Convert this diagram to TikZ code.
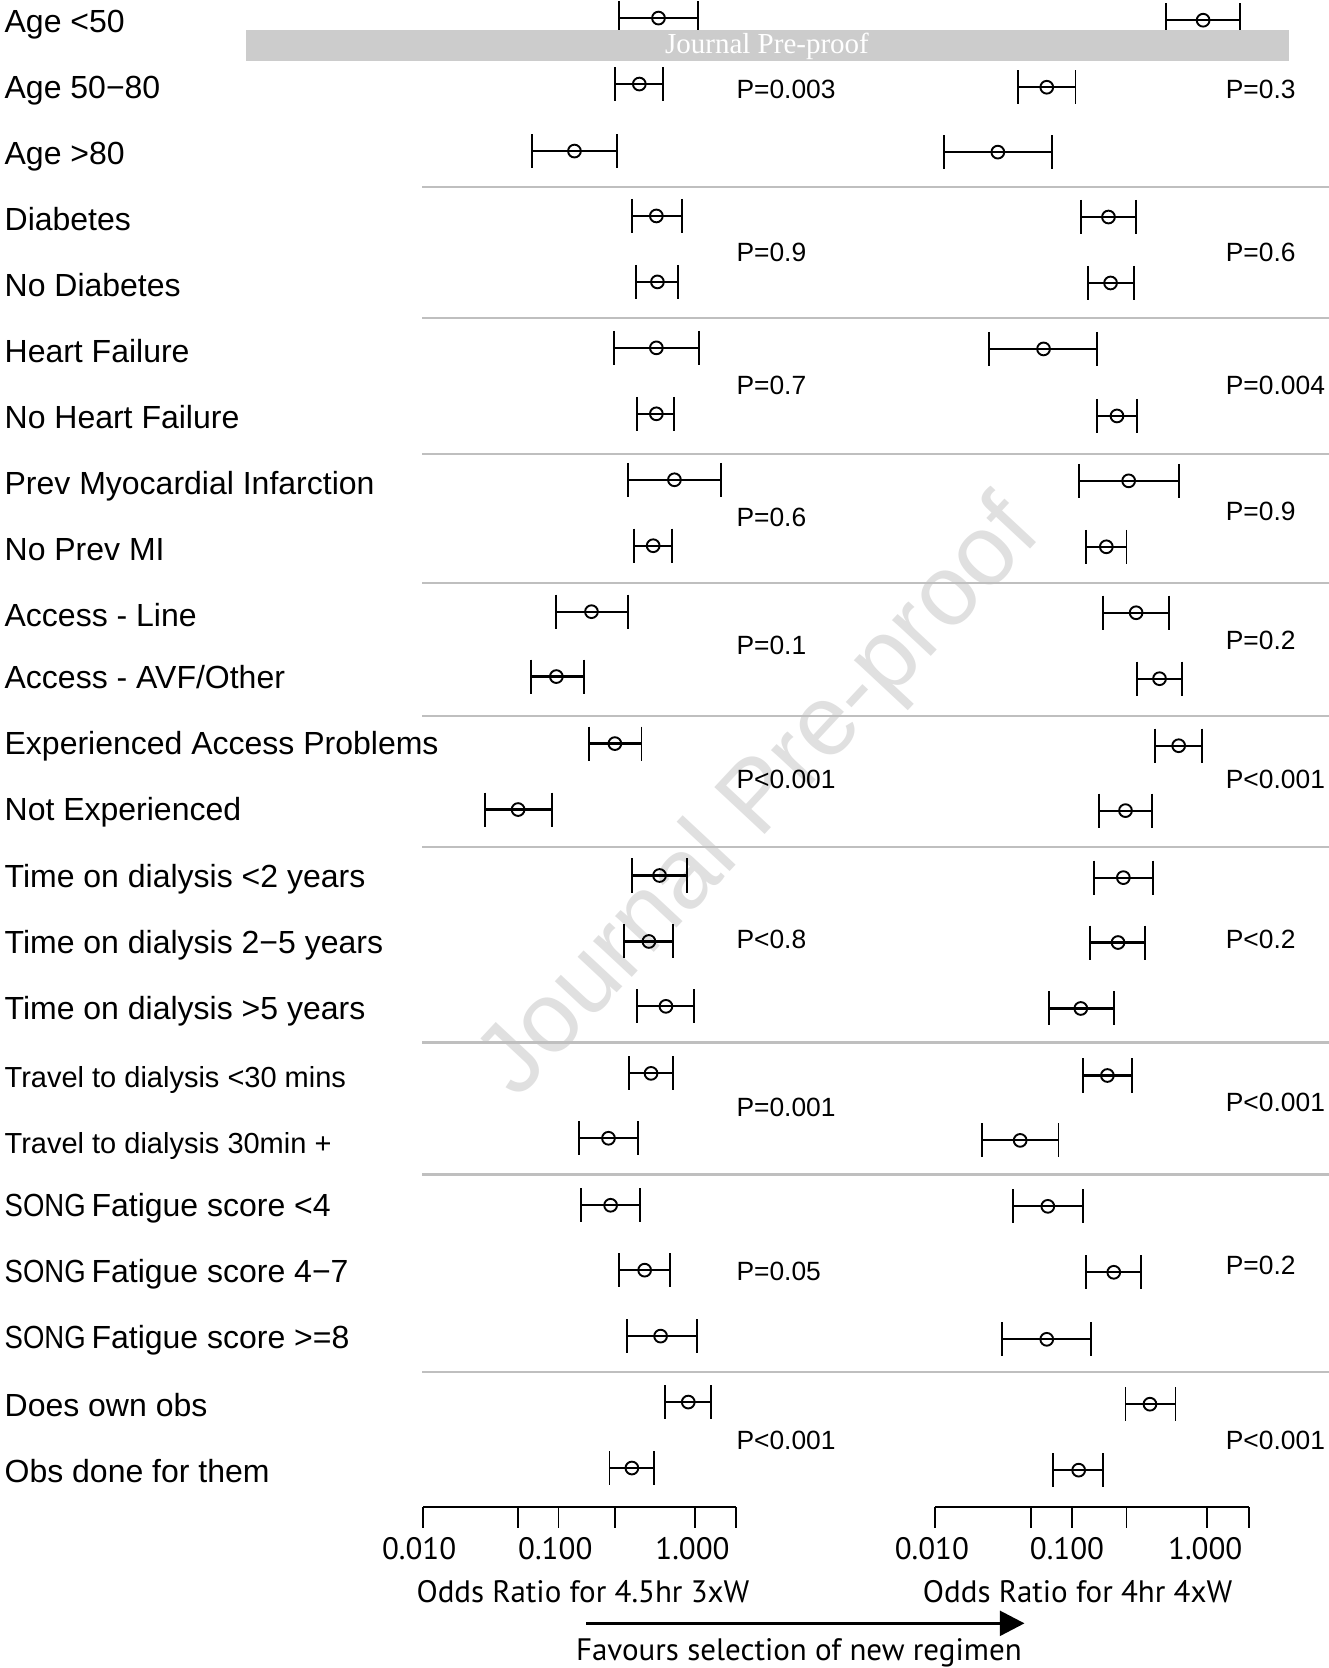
\documentclass[tikz,border=0pt]{standalone}
\usepackage{fontspec}
\setmainfont{Liberation Sans}
\newfontfamily\axfont{PT Sans}
\newfontfamily\banfont{Liberation Serif}
\newcommand\eb[4]{% y, left, centre, right
  \draw[barline] (#2,#1) -- (#4,#1);
  \draw[whisk] (#2,#1-16) -- (#2,#1+16);
  \draw[whisk] (#4,#1-16) -- (#4,#1+16);
  \draw[whisk] (#3,#1) circle[radius=6];
}
\newcommand\song{\scalebox{0.86}[1]{SONG}\hspace{-1.5pt}}
\begin{document}
\begin{tikzpicture}[x=0.532pt,y=-0.532pt,
  barline/.style={line width=1.1pt},
  whisk/.style={line width=0.95pt},
  sepline/.style={line width=1.1pt, draw=black!25},
  axisline/.style={line width=1.1pt},
  lab/.style={anchor=base west, inner sep=0pt, font=\fontsize{16}{18}\selectfont},
  labs/.style={anchor=base west, inner sep=0pt, font=\fontsize{14.5}{16}\selectfont},
  pval/.style={anchor=west, inner sep=0pt, font=\fontsize{13.2}{15}\selectfont},
  ticklab/.style={inner sep=0pt, font=\axfont\fontsize{15.5}{17}\selectfont},
]
\useasboundingbox (0,0) rectangle (1249,1568);
\fill[white] (0,0) rectangle (1249,1568);

% watermark
\node[rotate=47, text=black!12, font=\fontsize{50}{52}\selectfont] (wm) at (716,752) {Journal Pre-proof};

% separators
\foreach \yy in {176,299,427,548,673,796,980,1104,1290}
  \draw[sepline] (397,\yy) -- (1249,\yy);

% labels
\node[lab] (l1) at (4,20+11) {Age <50};
\node[lab] (l2) at (4,82+11) {Age 50−80};
\node[lab] (l3) at (4,144+11) {Age >80};
\node[lab] (l4) at (4,206+11) {Diabetes};
\node[lab] (l5) at (4,268+11) {No Diabetes};
\node[lab] (l6) at (4,330+11) {Heart Failure};
\node[lab] (l7) at (4,392+11) {No Heart Failure};
\node[lab] (l8) at (4,454+11) {Prev Myocardial Infarction};
\node[lab] (l9) at (4,516+11) {No Prev MI};
\node[lab] (l10) at (4,578+11) {Access - Line};
\node[lab] (l11) at (4,636+11) {Access - AVF/Other};
\node[lab] (l12) at (4,698+11) {Experienced Access Problems};
\node[lab] (l13) at (4,760+11) {Not Experienced};
\node[lab] (l14) at (4,823+11) {Time on dialysis <2 years};
\node[lab] (l15) at (4,885+11) {Time on dialysis 2−5 years};
\node[lab] (l16) at (4,947+11) {Time on dialysis >5 years};
\node[labs] (l17) at (4,1012+10) {Travel to dialysis <30 mins};
\node[labs] (l18) at (4,1074+10) {Travel to dialysis 30min +};
\node[lab] (l19) at (4,1133+11) {\song{} Fatigue score <4};
\node[lab] (l20) at (4,1195+11) {\song{} Fatigue score 4−7};
\node[lab] (l21) at (4,1257+11) {\song{} Fatigue score >=8};
\node[lab] (l22) at (4,1321+11) {Does own obs};
\node[lab] (l23) at (4,1383+11) {Obs done for them};

% left column error bars
\eb{17}{582}{619}{656}
\eb{79}{578}{601}{623}
\eb{142}{500}{540}{580}
\eb{203}{594}{617}{641}
\eb{265}{598}{618}{637}
\eb{327}{577}{617}{657}
\eb{389}{599}{617}{634}
\eb{451}{590}{634}{678}
\eb{513}{596}{614}{632}
\eb{575}{523}{556}{590}
\eb{636}{499}{523}{549}
\eb{699}{554}{578}{603}
\eb{761}{456}{487}{519}
\eb{823}{594}{620}{646}
\eb{885}{587}{610}{633}
\eb{946}{599}{626}{652}
\eb{1009}{591}{612}{633}
\eb{1070}{544}{572}{600}
\eb{1133}{546}{574}{602}
\eb{1194}{582}{606}{630}
\eb{1256}{589}{621}{655}
\eb{1318}{625}{647}{668}
\eb{1380}{573}{594}{615}

% right column error bars
\eb{19}{1096}{1131}{1166}
\eb{82}{957}{984}{1011}
\eb{143}{887}{938}{989}
\eb{204}{1016}{1042}{1068}
\eb{266}{1023}{1044}{1066}
\eb{328}{930}{981}{1031}
\eb{391}{1031}{1050}{1069}
\eb{452}{1014}{1061}{1108}
\eb{514}{1021}{1040}{1059}
\eb{576}{1037}{1068}{1099}
\eb{638}{1069}{1090}{1111}
\eb{701}{1086}{1108}{1130}
\eb{762}{1033}{1058}{1083}
\eb{825}{1028}{1056}{1084}
\eb{886}{1025}{1051}{1076}
\eb{948}{986}{1016}{1047}
\eb{1011}{1018}{1041}{1064}
\eb{1072}{923}{959}{995}
\eb{1134}{952}{985}{1018}
\eb{1196}{1021}{1047}{1073}
\eb{1259}{942}{984}{1026}
\eb{1320}{1058}{1081}{1105}
\eb{1382}{990}{1014}{1037}

% P-values
\node[pval] (pa1) at (692,84) {P=0.003};
\node[pval] (pa2) at (1152,84) {P=0.3};
\node[pval] (pb1) at (692,237) {P=0.9};
\node[pval] (pb2) at (1152,237) {P=0.6};
\node[pval] (pc1) at (692,362) {P=0.7};
\node[pval] (pc2) at (1152,362) {P=0.004};
\node[pval] (pd1) at (692,486) {P=0.6};
\node[pval] (pd2) at (1152,481) {P=0.9};
\node[pval] (pe1) at (692,607) {P=0.1};
\node[pval] (pe2) at (1152,602) {P=0.2};
\node[pval] (pf1) at (692,733) {P<0.001};
\node[pval] (pf2) at (1152,733) {P<0.001};
\node[pval] (pg1) at (692,883) {P<0.8};
\node[pval] (pg2) at (1152,883) {P<0.2};
\node[pval] (ph1) at (692,1041) {P=0.001};
\node[pval] (ph2) at (1152,1036) {P<0.001};
\node[pval] (pi1) at (692,1195) {P=0.05};
\node[pval] (pi2) at (1152,1190) {P=0.2};
\node[pval] (pj1) at (692,1354) {P<0.001};
\node[pval] (pj2) at (1152,1354) {P<0.001};

% banner
\fill[black!20] (231,28) rectangle (1212,57);
\node[text=white, inner sep=0pt, font=\banfont\fontsize{14.5}{15}\selectfont] (ban) at (721,44) {Journal Pre-proof};

% axes
\draw[axisline] (398,1417) -- (692,1417);
\foreach \xx in {398,487,525,578,653,692}
  \draw[whisk] (\xx,1417) -- (\xx,1436);
\draw[axisline] (879,1417) -- (1174,1417);
\foreach \xx in {879,969,1008,1059,1135,1174}
  \draw[whisk] (\xx,1417) -- (\xx,1436);
\node[ticklab] (ta1) at (394,1456) {0.010};
\node[ticklab] (ta2) at (522,1456) {0.100};
\node[ticklab] (ta3) at (651,1456) {1.000};
\node[ticklab] (tb1) at (876,1456) {0.010};
\node[ticklab] (tb2) at (1003,1456) {0.100};
\node[ticklab] (tb3) at (1133,1456) {1.000};
\node[ticklab] (xa) at (548,1496) {Odds Ratio for 4.5hr 3xW};
\node[ticklab] (xb) at (1013,1496) {Odds Ratio for 4hr 4xW};

% arrow
\coordinate (ars) at (551,1526);
\coordinate (are) at (940,1526);
\draw[line width=1.6pt] (ars) -- (are);
\fill (940,1514) -- (963,1526) -- (940,1538) -- cycle;
\node[ticklab] (fav) at (751,1554) {Favours selection of new regimen};
\end{tikzpicture}
\end{document}
